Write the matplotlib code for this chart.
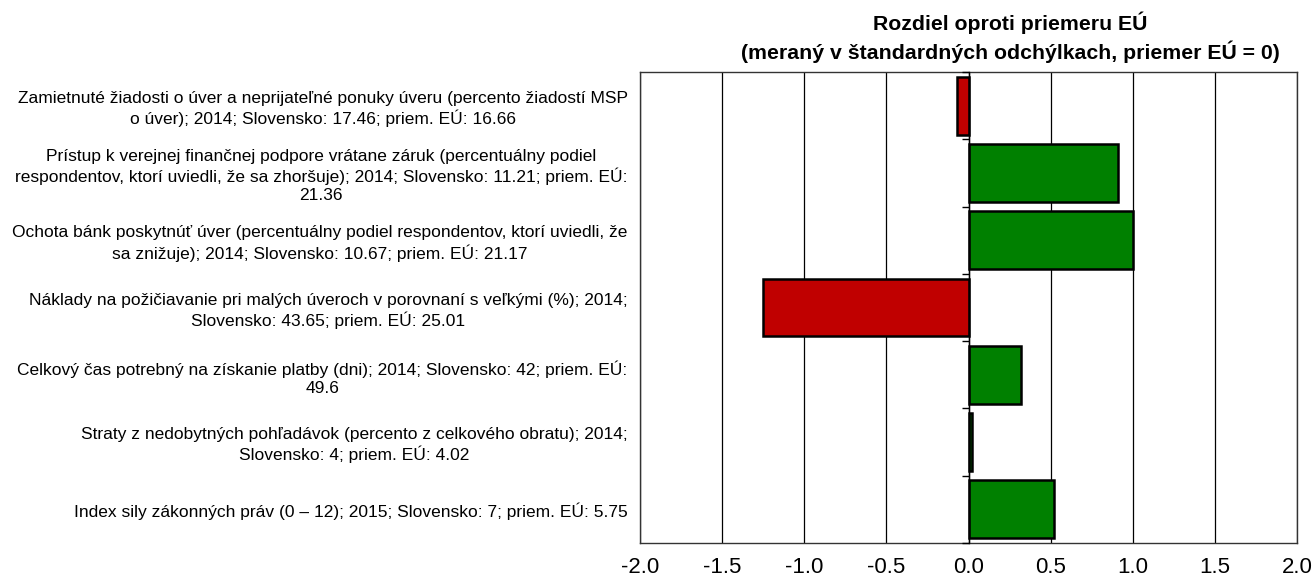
import matplotlib
matplotlib.use("Agg")
import matplotlib.pyplot as plt
import numpy as np

plt.rcParams['font.family'] = ['Liberation Sans', 'DejaVu Sans']

categories = [
    "Zamietnuté žiadosti o úver a neprijateľné ponuky úveru (percento žiadostí MSP\no úver); 2014; Slovensko: 17.46; priem. EÚ: 16.66",
    "Prístup k verejnej finančnej podpore vrátane záruk (percentuálny podiel\nrespondentov, ktorí uviedli, že sa zhoršuje); 2014; Slovensko: 11.21; priem. EÚ:\n21.36",
    "Ochota bánk poskytnúť úver (percentuálny podiel respondentov, ktorí uviedli, že\nsa znižuje); 2014; Slovensko: 10.67; priem. EÚ: 21.17",
    "Náklady na požičiavanie pri malých úveroch v porovnaní s veľkými (%); 2014;\nSlovensko: 43.65; priem. EÚ: 25.01",
    "Celkový čas potrebný na získanie platby (dni); 2014; Slovensko: 42; priem. EÚ:\n49.6",
    "Straty z nedobytných pohľadávok (percento z celkového obratu); 2014;\nSlovensko: 4; priem. EÚ: 4.02",
    "Index sily zákonných práv (0 – 12); 2015; Slovensko: 7; priem. EÚ: 5.75",
]
values = [-0.07, 0.91, 1.00, -1.25, 0.32, 0.02, 0.52]
xticks = [-2.0, -1.5, -1.0, -0.5, 0.0, 0.5, 1.0, 1.5, 2.0]
title = "Rozdiel oproti priemeru EÚ\n(meraný v štandardných odchýlkach, priemer EÚ = 0)"

fig = plt.figure(figsize=(13.16, 5.82), dpi=100)
ax = fig.add_axes([640/1316, 1-543/582, (1297-640)/1316, (543-72)/582])

y = np.arange(len(values))
colors = ['#C00000' if v < 0 else '#008000' for v in values]
ax.barh(y, values, height=0.86, color=colors, edgecolor='black', linewidth=1.8, zorder=3)

ax.set_xlim(-2, 2)
ax.set_ylim(len(values) - 0.5, -0.5)
ax.set_xticks(xticks)
ax.set_xticklabels([f"{t:.1f}" for t in xticks], fontsize=16)
ax.tick_params(axis='x', length=0, pad=10)
ax.grid(axis='x', color='black', linewidth=0.9, zorder=0)
ax.set_yticks(y)
ax.set_yticklabels(categories, fontsize=12.5, multialignment='center', linespacing=1.25)
ax.tick_params(axis='y', length=0, pad=9)
for s in ax.spines.values():
    s.set_linewidth(1.0)
    s.set_color('#333333')

# axis at zero with boundary ticks
ax2 = ax.twinx()
ax2.set_ylim(ax.get_ylim())
ax2.yaxis.set_ticks_position('left')
ax2.spines['left'].set_position(('data', 0))
ax2.spines['left'].set_linewidth(1.0)
for k in ['right', 'top', 'bottom']:
    ax2.spines[k].set_visible(False)
ax2.set_yticks(np.arange(len(values) + 1) - 0.5)
ax2.set_yticklabels([])
ax2.tick_params(axis='y', length=5, width=1, direction='out')

fig.text(1010/1316, 1-37/582, title, ha='center', va='center', fontsize=15.3,
         fontweight='bold', linespacing=1.35)

fig.savefig("out.png", dpi=100)
